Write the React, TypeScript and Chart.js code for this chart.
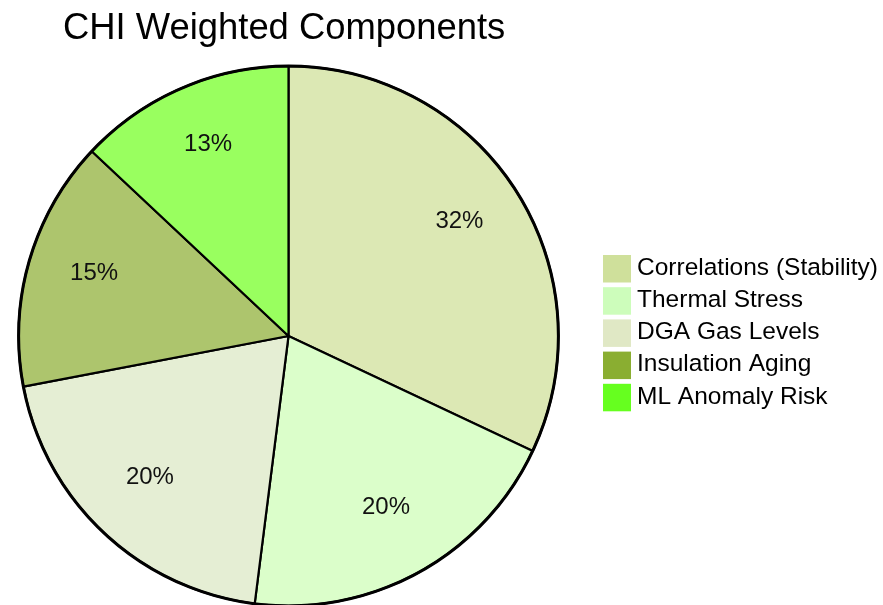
import React, { useEffect, useRef } from "react";
import { Chart, registerables } from "chart.js";

Chart.register(...registerables);

const title = "CHI Weighted Components";
const categories = [
  "Correlations (Stability)",
  "Thermal Stress",
  "DGA Gas Levels",
  "Insulation Aging",
  "ML Anomaly Risk",
];
const weights = [32, 20, 20, 15, 13];
const sliceColors = ["#dce8b4", "#dbfeca", "#e5eed4", "#adc56d", "#99ff5f"];
const legendColors = ["#cfe09b", "#cdfdbb", "#e0e8c5", "#8aae31", "#66ff1f"];

const FONT = "'Liberation Sans', Arial, Helvetica, sans-serif";

const overlayPlugin = {
  id: "overlay",
  afterDatasetsDraw(chart: any) {
    const ctx = chart.ctx;
    const meta = chart.getDatasetMeta(0);
    const total = weights.reduce((a, b) => a + b, 0);
    ctx.save();
    // outer rim, slightly heavier than the slice dividers
    const first = meta.data[0];
    if (first) {
      ctx.beginPath();
      ctx.arc(first.x, first.y, first.outerRadius, 0, Math.PI * 2);
      ctx.lineWidth = 3;
      ctx.strokeStyle = "#000";
      ctx.stroke();
    }
    // percentage labels inside slices
    ctx.fillStyle = "#111";
    ctx.font = `24px ${FONT}`;
    ctx.textAlign = "center";
    ctx.textBaseline = "middle";
    meta.data.forEach((arc: any, i: number) => {
      const { x, y, startAngle, endAngle, outerRadius } = arc.getProps(
        ["x", "y", "startAngle", "endAngle", "outerRadius"],
        true
      );
      const mid = (startAngle + endAngle) / 2;
      const r = outerRadius * 0.75;
      const pct = Math.round((weights[i] / total) * 100);
      ctx.fillText(`${pct}%`, x + Math.cos(mid) * r, y + Math.sin(mid) * r - 6);
    });
    // title
    ctx.textAlign = "left";
    ctx.textBaseline = "alphabetic";
    ctx.font = `36.4px ${FONT}`;
    ctx.fillStyle = "#000";
    ctx.fillText(title, 63, 39);
    // legend
    ctx.font = `24.5px ${FONT}`;
    ctx.textBaseline = "middle";
    categories.forEach((c, i) => {
      const top = 255 + i * 32.2;
      ctx.fillStyle = legendColors[i];
      ctx.fillRect(603, top, 28, 27.5);
      ctx.fillStyle = "#000";
      ctx.fillText(c, 637, top + 13);
    });
    ctx.restore();
  },
};

export default function App() {
  const ref = useRef<HTMLCanvasElement | null>(null);
  useEffect(() => {
    document.body.style.margin = "0";
    document.body.style.overflow = "hidden";
    document.documentElement.style.overflow = "hidden";
    const canvas = ref.current;
    if (!canvas) return;
    const chart = new Chart(canvas, {
      type: "pie",
      data: {
        labels: categories,
        datasets: [
          {
            data: weights,
            backgroundColor: sliceColors,
            borderColor: "#000",
            borderWidth: 2.2,
          },
        ],
      },
      options: {
        responsive: false,
        animation: false,
        devicePixelRatio: 1,
        layout: { padding: { left: 17, top: 65, right: 323, bottom: 650 - 607 } },
        plugins: {
          legend: { display: false },
          title: { display: false },
          tooltip: { enabled: false },
        },
      },
      plugins: [overlayPlugin],
    });
    return () => chart.destroy();
  }, []);
  return (
    <div style={{ position: "absolute", left: 0, top: 0, width: 883, height: 605, overflow: "hidden", background: "#fff" }}>
      <canvas ref={ref} width={883} height={650} style={{ display: "block" }} />
    </div>
  );
}
